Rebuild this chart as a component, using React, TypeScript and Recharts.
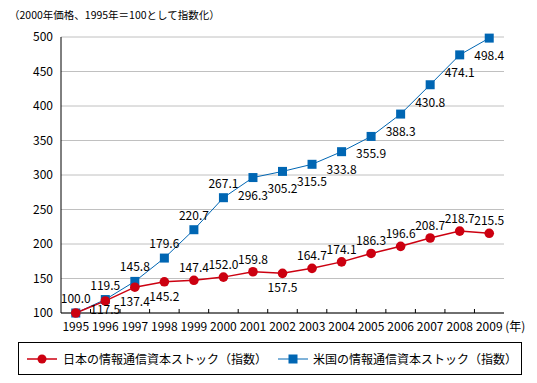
import React from 'react';
import { ComposedChart, Line, XAxis, YAxis, CartesianGrid, Legend } from 'recharts';

const years = ['1995', '1996', '1997', '1998', '1999', '2000', '2001', '2002', '2003', '2004', '2005', '2006', '2007', '2008', '2009'];
const japanIndex = [100.0, 117.5, 137.4, 145.2, 147.4, 152.0, 159.8, 157.5, 164.7, 174.1, 186.3, 196.6, 208.7, 218.7, 215.5];
const usIndex = [100.0, 119.5, 145.8, 179.6, 220.7, 267.1, 296.3, 305.2, 315.5, 333.8, 355.9, 388.3, 430.8, 474.1, 498.4];
const yTicks = [100, 150, 200, 250, 300, 350, 400, 450, 500];
const japanName = '日本の情報通信資本ストック（指数）';
const usName = '米国の情報通信資本ストック（指数）';
const titleText = '（2000年価格、1995年＝100として指数化）';
const yearUnit = '(年)';

const data = years.map((y, i) => ({ year: y, japan: japanIndex[i], us: usIndex[i] }));

const FONT = '"Noto Sans CJK JP", "Noto Sans", sans-serif';
const W = 537;
const H = 383;
const PLOT_LEFT = 61;
const PLOT_RIGHT = 504;
const BAND = (PLOT_RIGHT - PLOT_LEFT) / years.length;
const BLUE = '#0066b3';
const RED = '#cc0010';

const XTick = (props: any) => {
  const { x, y, payload, index } = props;
  const last = index === years.length - 1;
  return (
    <g>
      {index > 0 && <line x1={x - BAND / 2} x2={x - BAND / 2} y1={y} y2={y - 4} stroke="#000" strokeWidth={1} />}
      <text x={x} y={y + 18} textAnchor="middle" fontSize={12} fontFamily={FONT} fill="#000">{payload.value}</text>
      {last && <text x={x + 16} y={y + 18} textAnchor="start" fontSize={12} fontFamily={FONT} fill="#000">{yearUnit}</text>}
    </g>
  );
};

const SquareDot = (props: any) => {
  const { cx, cy, index } = props;
  if (cx == null || cy == null) return <g key={index} />;
  return <rect key={index} x={cx - 4.5} y={cy - 4.5} width={9} height={9} fill={BLUE} />;
};

const CircleDot = (props: any) => {
  const { cx, cy, index } = props;
  if (cx == null || cy == null) return <g key={index} />;
  return <circle key={index} cx={cx} cy={cy} r={4.8} fill={RED} />;
};

const US_BELOW_FROM = 6;
const JP_BELOW = new Set([1, 2, 3, 7]);
const JP_HIDDEN = new Set([0]);
const JP_TIGHT = new Set([1]);

const usLabel = (props: any) => {
  const { x, y, value, index } = props;
  const below = index >= US_BELOW_FROM;
  const ty = below ? y + 22 : y - 10;
  return (
    <text key={index} x={x} y={ty} textAnchor="middle" fontSize={12} fontFamily={FONT} fill="#000">
      {Number(value).toFixed(1)}
    </text>
  );
};

const jpLabel = (props: any) => {
  const { x, y, value, index } = props;
  if (JP_HIDDEN.has(index)) return <g key={index} />;
  const below = JP_BELOW.has(index);
  const ty = below ? y + (JP_TIGHT.has(index) ? 13 : 19) : y - 8;
  return (
    <text key={index} x={x} y={ty} textAnchor="middle" fontSize={12} fontFamily={FONT} fill="#000">
      {Number(value).toFixed(1)}
    </text>
  );
};

const LegendBox = () => (
  <div
    style={{
      position: 'relative',
      width: 502,
      height: 31,
      border: '1px solid #000',
      background: '#fff',
      fontFamily: FONT,
      fontSize: 12,
      color: '#000',
    }}
  >
    <svg style={{ position: 'absolute', left: 8, top: 10 }} width={32} height={12}>
      <line x1={0} x2={30} y1={6} y2={6} stroke={RED} strokeWidth={1.5} />
      <circle cx={15} cy={6} r={4.5} fill={RED} />
    </svg>
    <span style={{ position: 'absolute', left: 44, top: 7, whiteSpace: 'nowrap', lineHeight: '17px' }}>{japanName}</span>
    <svg style={{ position: 'absolute', left: 259, top: 10 }} width={32} height={12}>
      <line x1={0} x2={30} y1={6} y2={6} stroke={BLUE} strokeWidth={1} />
      <rect x={10.5} y={1.5} width={9} height={9} fill={BLUE} />
    </svg>
    <span style={{ position: 'absolute', left: 294, top: 7, whiteSpace: 'nowrap', lineHeight: '17px' }}>{usName}</span>
  </div>
);

export default function App() {
  return (
    <div style={{ position: 'absolute', left: 0, top: 0, width: W, height: H, background: '#fff' }}>
      <div
        style={{
          position: 'absolute',
          left: 9,
          top: 7,
          fontFamily: FONT,
          fontSize: 10.5,
          lineHeight: '16px',
          whiteSpace: 'nowrap',
          color: '#000',
        }}
      >
        {titleText}
      </div>
      <ComposedChart
        width={W}
        height={H}
        data={data}
        margin={{ top: 37, right: W - PLOT_RIGHT, left: 0, bottom: 8 }}
      >
        <CartesianGrid horizontal vertical={false} stroke="#c0c0c0" strokeWidth={1} yAxisId={0} />
        <XAxis
          dataKey="year"
          xAxisId={0}
          height={29}
          tickLine={false}
          tickSize={0}
          tickMargin={0}
          axisLine={{ stroke: '#000', strokeWidth: 1 }}
          tick={<XTick />}
          interval={0}
          padding={{ left: BAND / 2, right: BAND / 2 }}
        />
        <XAxis
          dataKey="year"
          xAxisId="top"
          orientation="top"
          height={0}
          tick={false}
          tickLine={false}
          axisLine={{ stroke: '#000', strokeWidth: 1 }}
          padding={{ left: BAND / 2, right: BAND / 2 }}
        />
        <YAxis
          yAxisId={0}
          width={PLOT_LEFT}
          domain={[100, 500]}
          ticks={yTicks}
          tickLine={false}
          tick={{ fontSize: 12, fontFamily: FONT, fill: '#000' }}
          axisLine={{ stroke: '#000', strokeWidth: 1 }}
          interval={0}
        />
        <YAxis
          yAxisId="right"
          orientation="right"
          width={0}
          domain={[100, 500]}
          tick={false}
          tickLine={false}
          axisLine={{ stroke: '#000', strokeWidth: 1 }}
        />
        <Legend
          verticalAlign="bottom"
          content={() => <LegendBox />}
          wrapperStyle={{ left: 18, width: 504, bottom: 8 }}
        />
        <Line
          type="linear"
          dataKey="us"
          name={usName}
          xAxisId={0}
          yAxisId={0}
          stroke={BLUE}
          strokeWidth={1}
          dot={SquareDot}
          activeDot={false}
          label={usLabel}
          isAnimationActive={false}
        />
        <Line
          type="linear"
          dataKey="japan"
          name={japanName}
          xAxisId={0}
          yAxisId={0}
          stroke={RED}
          strokeWidth={1.5}
          dot={CircleDot}
          activeDot={false}
          label={jpLabel}
          isAnimationActive={false}
        />
      </ComposedChart>
    </div>
  );
}
